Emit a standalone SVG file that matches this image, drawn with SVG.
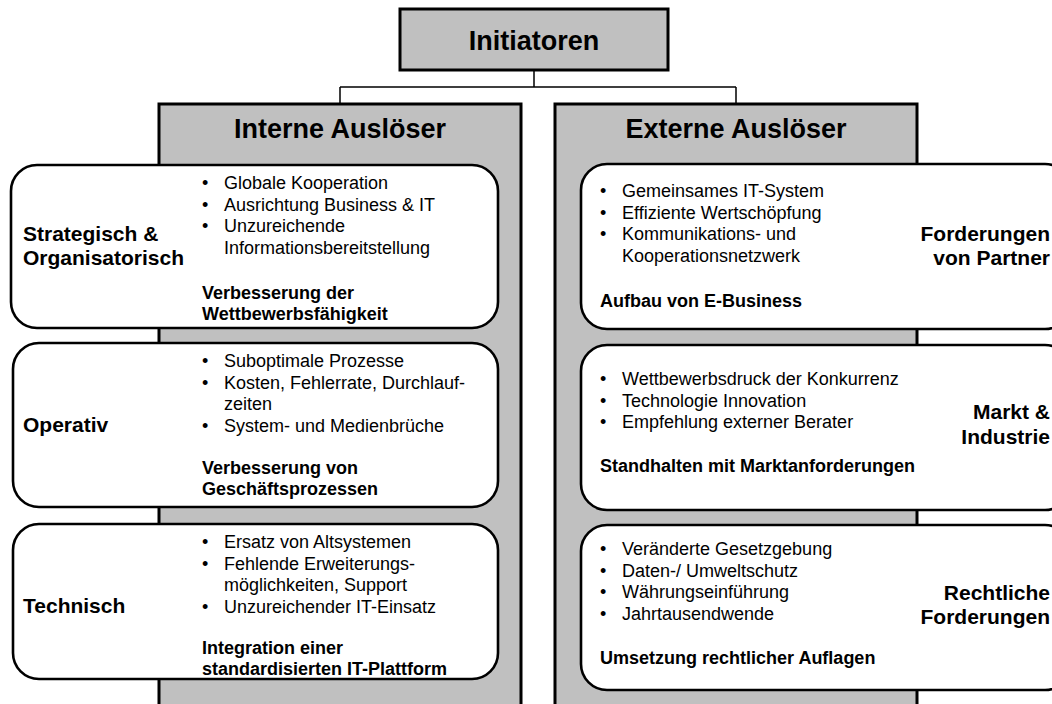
<svg xmlns="http://www.w3.org/2000/svg" width="1052" height="704" viewBox="0 0 1052 704">
  <style>
    text { font-family: "Liberation Sans", Arial, sans-serif; fill: #000; }
    .head { fill: #c0c0c0; stroke: #000; stroke-width: 3; }
    .card { fill: #fff; stroke: #000; stroke-width: 2.6; }
    .link { fill: none; stroke: #000; stroke-width: 1.5; }
    .t-head { font-size: 27px; font-weight: bold; text-anchor: middle; }
    .t-cat { font-size: 21px; font-weight: bold; }
    .t-cat-r { font-size: 21px; font-weight: bold; text-anchor: end; }
    .t-item { font-size: 18px; }
    .t-goal { font-size: 18px; font-weight: bold; }
  </style>

  <!-- tree connectors -->
  <g id="connectors">
    <path class="link" d="M534 70 V87 M340 87 H736 M340 87 V104 M736 87 V104"/>
  </g>

  <!-- root -->
  <g id="initiatoren">
    <rect class="head" x="400" y="9" width="268" height="61"/>
    <text class="t-head" x="534" y="50">Initiatoren</text>
  </g>

  <!-- internal column -->
  <g id="interne">
    <rect class="head" x="159" y="104" width="362" height="620"/>
    <text class="t-head" x="340" y="138">Interne Auslöser</text>
  </g>

  <!-- external column -->
  <g id="externe">
    <rect class="head" x="555" y="104" width="362" height="620"/>
    <text class="t-head" x="736" y="138">Externe Auslöser</text>
  </g>

  <!-- internal triggers -->
  <g id="strategisch">
    <rect class="card" x="11" y="165" width="487" height="163" rx="26" ry="26"/>
    <text class="t-cat" x="23" y="241">Strategisch &amp;</text>
    <text class="t-cat" x="23" y="265">Organisatorisch</text>
    <g class="t-item">
      <text x="202" y="189">•</text><text x="224" y="189">Globale Kooperation</text>
      <text x="202" y="210.5">•</text><text x="224" y="210.5">Ausrichtung Business &amp; IT</text>
      <text x="202" y="232">•</text><text x="224" y="232">Unzureichende</text>
      <text x="224" y="253.5">Informationsbereitstellung</text>
    </g>
    <text class="t-goal" x="202" y="299">Verbesserung der</text>
    <text class="t-goal" x="202" y="320">Wettbewerbsfähigkeit</text>
  </g>

  <g id="operativ">
    <rect class="card" x="13" y="343" width="485" height="164" rx="26" ry="26"/>
    <text class="t-cat" x="23" y="432">Operativ</text>
    <g class="t-item">
      <text x="202" y="367">•</text><text x="224" y="367">Suboptimale Prozesse</text>
      <text x="202" y="388.5">•</text><text x="224" y="388.5">Kosten, Fehlerrate, Durchlauf-</text>
      <text x="224" y="410">zeiten</text>
      <text x="202" y="431.5">•</text><text x="224" y="431.5">System- und Medienbrüche</text>
    </g>
    <text class="t-goal" x="202" y="474">Verbesserung von</text>
    <text class="t-goal" x="202" y="495">Geschäftsprozessen</text>
  </g>

  <g id="technisch">
    <rect class="card" x="13" y="524" width="485" height="155" rx="26" ry="26"/>
    <text class="t-cat" x="23" y="613">Technisch</text>
    <g class="t-item">
      <text x="202" y="548">•</text><text x="224" y="548">Ersatz von Altsystemen</text>
      <text x="202" y="569.5">•</text><text x="224" y="569.5">Fehlende Erweiterungs-</text>
      <text x="224" y="591">möglichkeiten, Support</text>
      <text x="202" y="612.5">•</text><text x="224" y="612.5">Unzureichender IT-Einsatz</text>
    </g>
    <text class="t-goal" x="202" y="654">Integration einer</text>
    <text class="t-goal" x="202" y="675">standardisierten IT-Plattform</text>
  </g>

  <!-- external triggers -->
  <g id="partner">
    <rect class="card" x="581" y="164" width="490" height="165" rx="26" ry="26"/>
    <text class="t-cat-r" x="1050" y="241">Forderungen</text>
    <text class="t-cat-r" x="1050" y="265">von Partner</text>
    <g class="t-item">
      <text x="600" y="197">•</text><text x="622" y="197">Gemeinsames IT-System</text>
      <text x="600" y="218.5">•</text><text x="622" y="218.5">Effiziente Wertschöpfung</text>
      <text x="600" y="240">•</text><text x="622" y="240">Kommunikations- und</text>
      <text x="622" y="261.5">Kooperationsnetzwerk</text>
    </g>
    <text class="t-goal" x="600" y="307">Aufbau von E-Business</text>
  </g>

  <g id="markt">
    <rect class="card" x="581" y="345" width="490" height="165" rx="26" ry="26"/>
    <text class="t-cat-r" x="1050" y="419">Markt &amp;</text>
    <text class="t-cat-r" x="1050" y="444">Industrie</text>
    <g class="t-item">
      <text x="600" y="385">•</text><text x="622" y="385">Wettbewerbsdruck der Konkurrenz</text>
      <text x="600" y="406.5">•</text><text x="622" y="406.5">Technologie Innovation</text>
      <text x="600" y="428">•</text><text x="622" y="428">Empfehlung externer Berater</text>
    </g>
    <text class="t-goal" x="600" y="472">Standhalten mit Marktanforderungen</text>
  </g>

  <g id="recht">
    <rect class="card" x="581" y="525" width="490" height="165" rx="26" ry="26"/>
    <text class="t-cat-r" x="1050" y="600">Rechtliche</text>
    <text class="t-cat-r" x="1050" y="624">Forderungen</text>
    <g class="t-item">
      <text x="600" y="555">•</text><text x="622" y="555">Veränderte Gesetzgebung</text>
      <text x="600" y="576.5">•</text><text x="622" y="576.5">Daten-/ Umweltschutz</text>
      <text x="600" y="598">•</text><text x="622" y="598">Währungseinführung</text>
      <text x="600" y="619.5">•</text><text x="622" y="619.5">Jahrtausendwende</text>
    </g>
    <text class="t-goal" x="600" y="664">Umsetzung rechtlicher Auflagen</text>
  </g>
</svg>
